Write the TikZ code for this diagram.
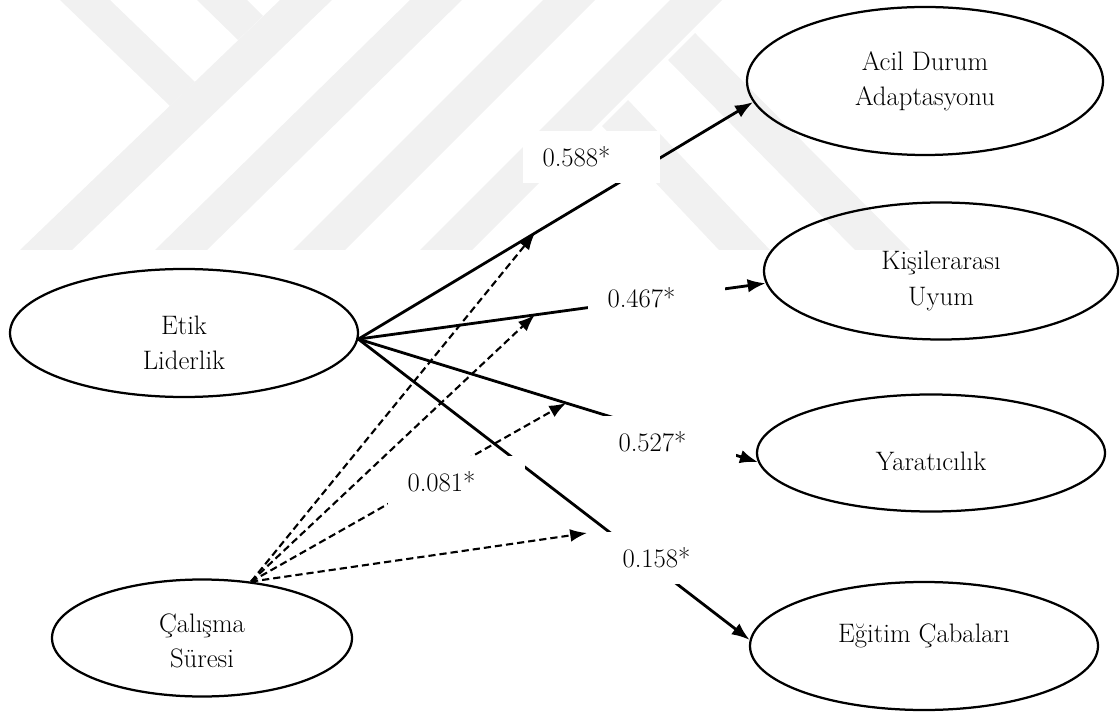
\documentclass[tikz,border=0pt]{standalone}
\usepackage{tikz}
\usetikzlibrary{shapes.geometric, arrows.meta}

\begin{document}
\begin{tikzpicture}[x=0.25mm, y=-0.25mm, font=\fontsize{19}{25}\selectfont,
    latent/.style={ellipse, draw, line width=1.6pt, inner sep=0pt},
    txt/.style={align=center},
    effect/.style={line width=2pt, -{Latex[length=4.5mm, width=3.4mm]}},
    ctrl/.style={line width=1.5pt, dash pattern=on 1.8mm off 1mm, -{Latex[length=4.2mm, width=3.2mm]}},
    coef/.style={fill=white, inner xsep=5mm, inner ysep=0pt, text width=24.25mm, minimum height=13mm, align=left},
    wmark/.style={fill=gray!11}]
  \useasboundingbox (0,0) rectangle (1120,713);

  \foreach \a/\b in {20/280, 155/410, 293/543, 420/670}
    \fill[wmark] (\a,250) -- (\a+52,250) -- (\b+52,0) -- (\b,0) -- cycle;
  \fill[wmark] (60,0) -- (110,0) -- (195,82) -- (170,106) -- cycle;
  \fill[wmark] (197,0) -- (247,0) -- (263,16) -- (238,40) -- cycle;
  \fill[wmark] (695,33) -- (910,250) -- (855,250) -- (668,60) -- cycle;
  \fill[wmark] (628,100) -- (770,250) -- (719,250) -- (602,126) -- cycle;

  \node[latent, minimum width=87mm, minimum height=32mm,
        label={[txt, yshift=-2.4mm]center:Etik\\Liderlik}] (etik) at (184,333) {};
  \node[latent, minimum width=75mm, minimum height=29.25mm,
        label={[txt, yshift=-0.8mm]center:Çalışma\\Süresi}] (calisma) at (202,638) {};
  \node[latent, minimum width=89mm, minimum height=37mm,
        label={[txt]center:Acil Durum\\Adaptasyonu}] (acil) at (925,81) {};
  \node[latent, minimum width=88.5mm, minimum height=34.25mm,
        label={[txt, yshift=-2.5mm]center:Kişilerarası\\Uyum}] (kisi) at (941,271) {};
  \node[latent, minimum width=87mm, minimum height=29.25mm,
        label={[yshift=-2.2mm]center:Yaratıcılık}] (yarat) at (931,453) {};
  \node[latent, minimum width=87mm, minimum height=32mm,
        label={[yshift=2.6mm]center:Eğitim Çabaları}] (egitim) at (924,646) {};

  \draw[effect] (etik.-2) -- (acil.187) coordinate[pos=0.447] (t1);
  \draw[effect] (etik.-2) -- (kisi.184) coordinate[pos=0.433] (t2);
  \draw[effect] (etik.-2) -- (yarat.183) coordinate[pos=0.52] (t3);
  \draw[effect] (etik.-2) -- (egitim.178);
  \coordinate (t4) at (587,533);

  \foreach \t in {t1, t2, t3, t4}
    \draw[ctrl] (calisma.49) -- (\t);

  \node[coef] (b1) at (591,157) {0.588*};
  \node[coef] (b2) at (656,298) {0.467*};
  \node[coef] (b3) at (667,442) {0.527*};
  \node[coef] (b4) at (456,482) {0.081*};
  \node[coef] (b5) at (671,558) {0.158*};
\end{tikzpicture}
\end{document}
